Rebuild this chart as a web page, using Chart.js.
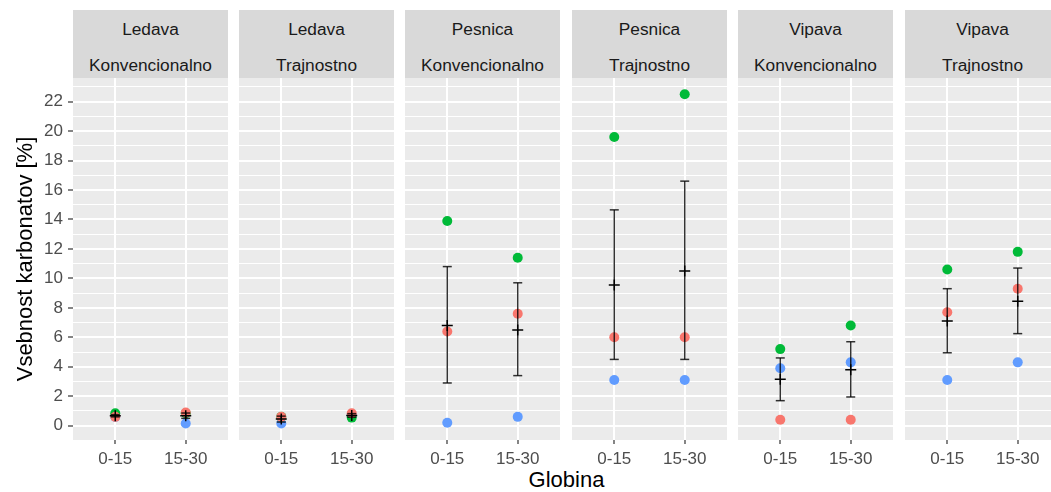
<!DOCTYPE html>
<html>
<head>
<meta charset="utf-8">
<script src="https://cdn.jsdelivr.net/npm/chart.js@4.4.1/dist/chart.umd.min.js"></script>
<style>
  html, body { margin: 0; padding: 0; background: #fff; overflow: hidden; width: 1051px; height: 492px; }
  body { position: relative; font-family: "Liberation Sans", Arial, sans-serif; }
  .strip { position: absolute; top: 10px; height: 68px; width: 155px; background: #D9D9D9; color: #1A1A1A;
           box-sizing: border-box; padding-top: 1px; overflow: hidden;
           font-size: 17.3px; line-height: 36px; text-align: center; }
  canvas { position: absolute; top: 78px; }
  #xtitle { position: absolute; top: 468px; left: 0; width: 1133px; text-align: center;
            font-size: 22px; line-height: 24px; color: #000; }
</style>
</head>
<body>
<div id="xtitle">Globina</div>
<script>
// facets
const sites = ["Ledava", "Ledava", "Pesnica", "Pesnica", "Vipava", "Vipava"];
const practices = ["Konvencionalno", "Trajnostno", "Konvencionalno", "Trajnostno", "Konvencionalno", "Trajnostno"];
const depths = ["0-15", "15-30"];

// three measured points per depth (values per facet: [0-15, 15-30])
const redVals   = [[0.6, 0.9], [0.6, 0.85], [6.4, 7.6], [6.0, 6.0], [0.4, 0.4], [7.7, 9.3]];
const greenVals = [[0.85, 0.85], [0.6, 0.55], [13.9, 11.4], [19.6, 22.5], [5.2, 6.8], [10.6, 11.8]];
const blueVals  = [[0.6, 0.15], [0.15, 0.7], [0.2, 0.6], [3.1, 3.1], [3.9, 4.3], [3.1, 4.3]];

// mean and error bar ends
const meanVals = [[0.68, 0.68], [0.45, 0.7], [6.8, 6.5], [9.55, 10.5], [3.15, 3.8], [7.1, 8.45]];
const errLow   = [[0.6, 0.5], [0.25, 0.58], [2.9, 3.4], [4.5, 4.5], [1.7, 1.95], [4.95, 6.25]];
const errHigh  = [[0.75, 0.86], [0.65, 0.82], [10.8, 9.7], [14.65, 16.6], [4.6, 5.7], [9.3, 10.7]];

const yTickLabels = [0, 2, 4, 6, 8, 10, 12, 14, 16, 18, 20, 22];
const yGridValues = [0, 1, 2, 3, 4, 5, 6, 7, 8, 9, 10, 11, 12, 13, 14, 15, 16, 17, 18, 19, 20, 21, 22, 23];
const yTitle = "Vsebnost karbonatov [%]";

// layout
const panelLefts = [73, 239, 405, 572, 738, 905];
const panelW = 155;
const yAxisW = 73;
const canvasH = 414;
const xAxisH = 52;
const FONT = "'Liberation Sans', Arial, sans-serif";
const errColor = "rgba(0,0,0,0.8)";

const panelBg = {
  id: "panelBg",
  beforeDraw(chart) {
    const { ctx, chartArea: a } = chart;
    ctx.save();
    ctx.fillStyle = "#EBEBEB";
    ctx.fillRect(a.left, a.top, a.width, a.height);
    ctx.restore();
  }
};

function pts(arr, i) {
  return depths.map((d, j) => ({ x: j + 1, y: arr[i][j] }));
}

function isMajor(v) { return yTickLabels.includes(v); }

sites.forEach((site, i) => {
  const first = i === 0;

  const strip = document.createElement("div");
  strip.className = "strip";
  strip.style.left = panelLefts[i] + "px";
  strip.innerHTML = site + "<br>" + practices[i];
  document.body.appendChild(strip);

  const canvas = document.createElement("canvas");
  canvas.width = first ? panelW + yAxisW : panelW;
  canvas.height = canvasH;
  canvas.style.left = (first ? 0 : panelLefts[i]) + "px";
  document.body.appendChild(canvas);

  const datasets = [];
  depths.forEach((d, j) => {
    datasets.push({
      data: [{ x: j + 1, y: errLow[i][j] }, { x: j + 1, y: errHigh[i][j] }],
      showLine: true,
      borderColor: errColor,
      borderWidth: 1.5,
      pointStyle: "line",
      pointRadius: 4.5,
      pointBorderColor: errColor,
      pointBorderWidth: 1.5
    });
  });
  datasets.push({
    data: pts(meanVals, i),
    pointStyle: "cross",
    pointRadius: 5.5,
    pointBorderColor: "#000",
    pointBorderWidth: 1.5
  });
  [[redVals, "#F8766D"], [greenVals, "#00BA38"], [blueVals, "#619CFF"]].forEach(([vals, col]) => {
    datasets.push({
      data: pts(vals, i),
      pointRadius: 5,
      pointBackgroundColor: col,
      pointBorderWidth: 0
    });
  });

  new Chart(canvas, {
    type: "scatter",
    data: { datasets },
    plugins: [panelBg],
    options: {
      responsive: false,
      devicePixelRatio: 1,
      animation: false,
      events: [],
      layout: { padding: 0, autoPadding: false },
      plugins: { legend: { display: false }, tooltip: { enabled: false } },
      scales: {
        x: {
          type: "linear",
          min: 0.4,
          max: 2.6,
          bounds: "data",
          afterBuildTicks: s => { s.ticks = depths.map((d, j) => ({ value: j + 1 })); },
          afterFit: s => { s.height = xAxisH; s.paddingLeft = 0; s.paddingRight = 0; },
          border: { display: false },
          grid: { color: "#fff", lineWidth: 2, tickLength: 4, tickColor: "#333", tickWidth: 1.2 },
          ticks: {
            autoSkip: false, maxRotation: 0, padding: 5,
            color: "#4D4D4D", font: { size: 17, family: FONT },
            callback: v => depths[v - 1]
          }
        },
        y: {
          type: "linear",
          min: -0.97,
          max: 23.6,
          bounds: "data",
          afterBuildTicks: s => { s.ticks = yGridValues.map(v => ({ value: v })); },
          afterFit: s => { s.width = first ? yAxisW : 0; s.paddingTop = 0; s.paddingBottom = 0; },
          border: { display: false },
          grid: {
            color: "#fff",
            lineWidth: c => (c.tick && isMajor(c.tick.value) ? 2 : 1),
            drawTicks: first,
            tickLength: 5,
            tickColor: c => (c.tick && isMajor(c.tick.value) ? "#333" : "rgba(0,0,0,0)"),
            tickWidth: 1.2
          },
          ticks: {
            display: first, autoSkip: false, padding: 5,
            color: "#4D4D4D", font: { size: 17, family: FONT },
            callback: v => (isMajor(v) ? String(v) : "")
          },
          title: {
            display: first, text: yTitle, color: "#000",
            font: { size: 22, family: FONT }, padding: { top: 13, bottom: 0 }
          }
        }
      }
    }
  });
});
</script>
</body>
</html>
